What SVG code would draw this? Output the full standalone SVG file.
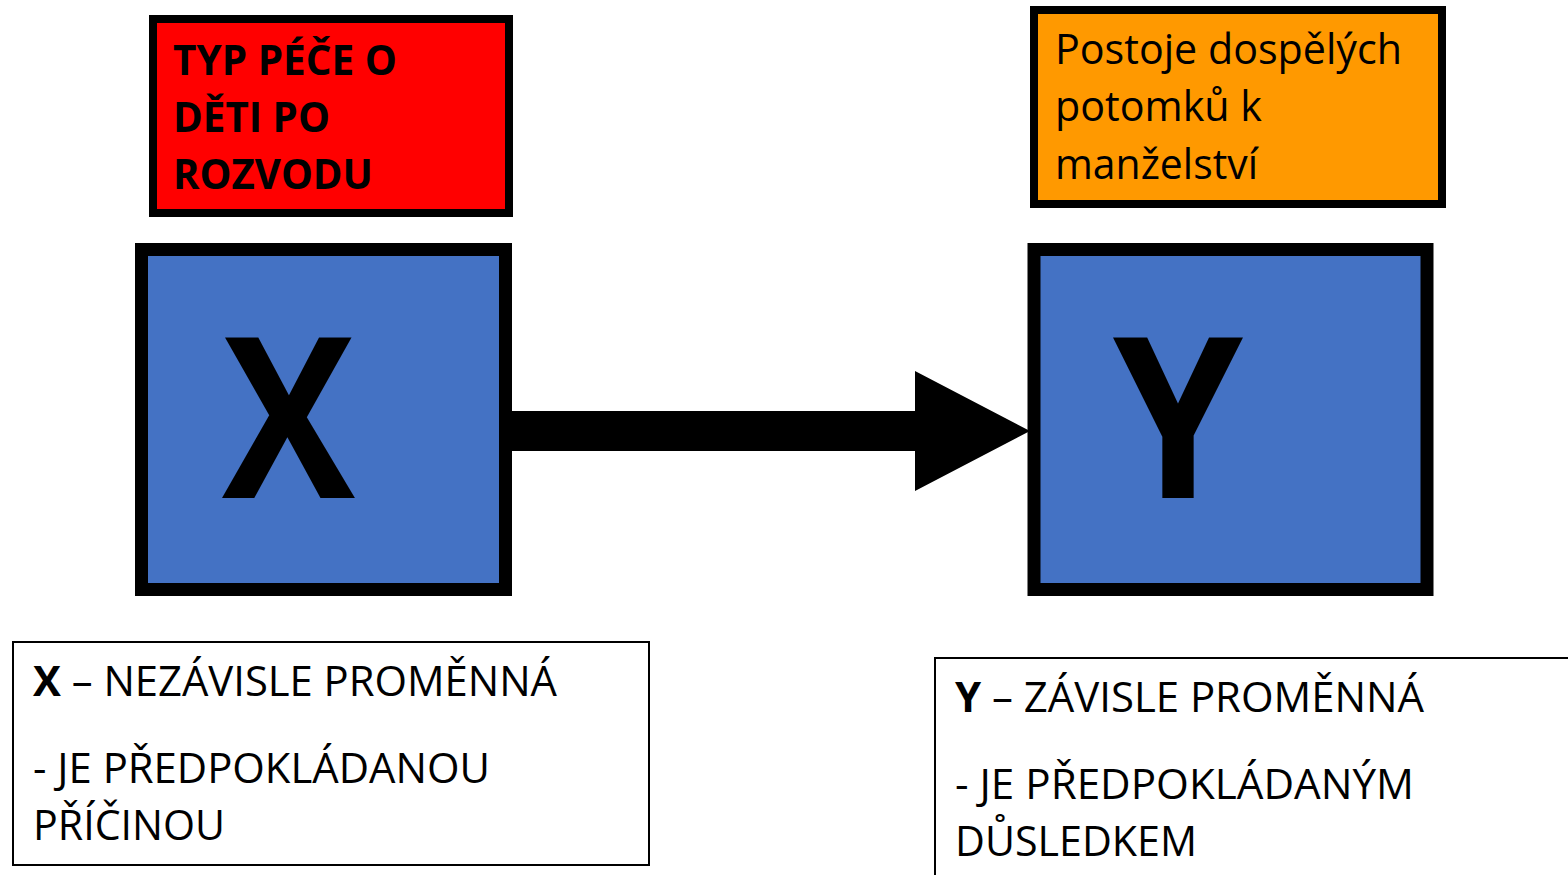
<svg xmlns="http://www.w3.org/2000/svg" width="1568" height="875" viewBox="0 0 1568 875">
<style>
.lbl{font-family:"Open Sans","Noto Sans","Liberation Sans",sans-serif;fill:#000}
.big{font-family:"Open Sans","Noto Sans","Liberation Sans",sans-serif;font-weight:bold;font-size:225px;fill:#000}
.var{fill:#4472C4;stroke:#000;stroke-width:13}
.note{fill:#fff;stroke:#000;stroke-width:2}
</style>
<rect width="1568" height="875" fill="#fff"/>
<g id="caption-x">
<rect x="153" y="19" width="356" height="194" fill="#FF0000" stroke="#000" stroke-width="8"/>
<text class="lbl" font-weight="bold" font-size="42">
<tspan x="173" y="75" textLength="224" lengthAdjust="spacingAndGlyphs">TYP PÉČE O</tspan>
<tspan x="173" y="132" textLength="157" lengthAdjust="spacingAndGlyphs">DĚTI PO</tspan>
<tspan x="173" y="189" textLength="200" lengthAdjust="spacingAndGlyphs">ROZVODU</tspan>
</text>
</g>
<g id="caption-y">
<rect x="1034" y="10" width="408" height="194" fill="#FF9900" stroke="#000" stroke-width="8"/>
<text class="lbl" font-size="42">
<tspan x="1055" y="64" textLength="347" lengthAdjust="spacingAndGlyphs">Postoje dospělých</tspan>
<tspan x="1055" y="121" textLength="207" lengthAdjust="spacingAndGlyphs">potomků k</tspan>
<tspan x="1055" y="179" textLength="203" lengthAdjust="spacingAndGlyphs">manželství</tspan>
</text>
</g>
<g id="node-x">
<rect class="var" x="141.5" y="249.5" width="364" height="340"/>
<text class="big" x="222" y="498" textLength="133" lengthAdjust="spacingAndGlyphs">X</text>
</g>
<g id="node-y">
<rect class="var" x="1034" y="249.5" width="393" height="340"/>
<text class="big" x="1113" y="498" textLength="130" lengthAdjust="spacingAndGlyphs">Y</text>
</g>
<g id="connectors">
<polygon points="512,411 915,411 915,371 1030,431 915,491 915,451 512,451" fill="#000"/>
</g>
<g id="note-x">
<rect class="note" x="13" y="642" width="636" height="223"/>
<text class="lbl" font-size="42">
<tspan x="33" y="696" textLength="524" lengthAdjust="spacingAndGlyphs"><tspan font-weight="bold">X</tspan> – NEZÁVISLE PROMĚNNÁ</tspan>
<tspan x="33" y="783" textLength="457" lengthAdjust="spacingAndGlyphs">- JE PŘEDPOKLÁDANOU</tspan>
<tspan x="33" y="840" textLength="192" lengthAdjust="spacingAndGlyphs">PŘÍČINOU</tspan>
</text>
</g>
<g id="note-y">
<path class="note" d="M935,876 V658 H1570" fill="none"/>
<text class="lbl" font-size="42">
<tspan x="955" y="712" textLength="469" lengthAdjust="spacingAndGlyphs"><tspan font-weight="bold">Y</tspan> – ZÁVISLE PROMĚNNÁ</tspan>
<tspan x="955" y="799" textLength="459" lengthAdjust="spacingAndGlyphs">- JE PŘEDPOKLÁDANÝM</tspan>
<tspan x="955" y="856" textLength="242" lengthAdjust="spacingAndGlyphs">DŮSLEDKEM</tspan>
</text>
</g>
</svg>
